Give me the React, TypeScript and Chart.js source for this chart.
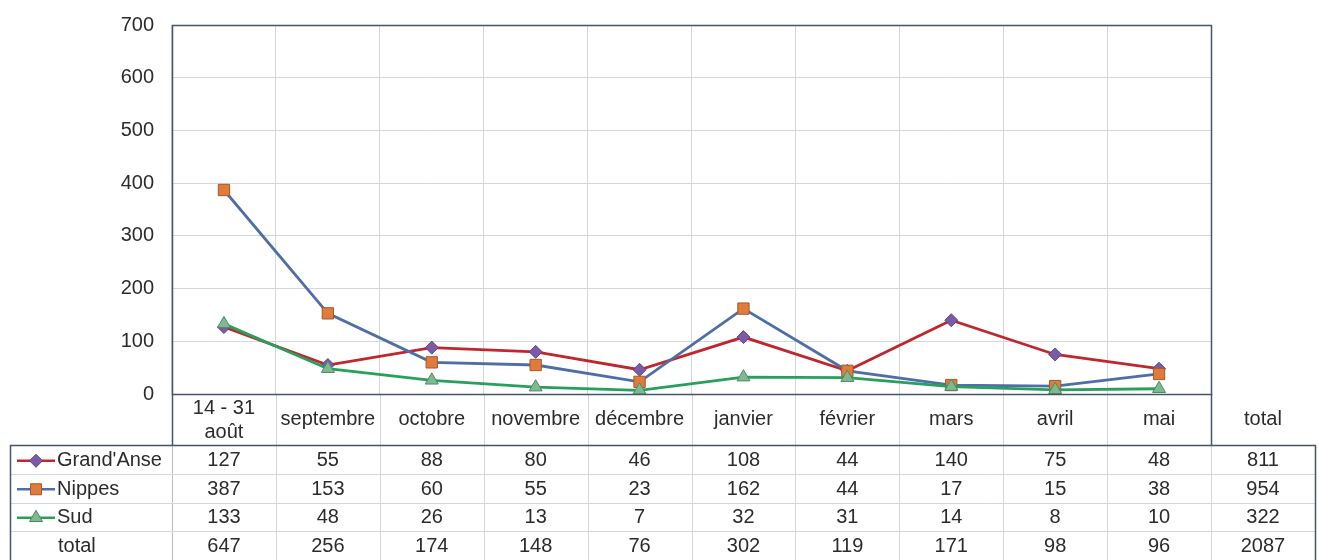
import React, { useEffect, useRef } from "react";
import { Chart, registerables } from "chart.js";

Chart.register(...registerables);

// ---- data ----
const categories: (string | string[])[] = [
  ["14 - 31", "août"],
  "septembre",
  "octobre",
  "novembre",
  "décembre",
  "janvier",
  "février",
  "mars",
  "avril",
  "mai",
];
const totalLabel = "total";
const seriesNames = ["Grand'Anse", "Nippes", "Sud"];
const grandAnse = [127, 55, 88, 80, 46, 108, 44, 140, 75, 48];
const nippes = [387, 153, 60, 55, 23, 162, 44, 17, 15, 38];
const sud = [133, 48, 26, 13, 7, 32, 31, 14, 8, 10];
const seriesTotals = [811, 954, 322];
const monthTotals = [647, 256, 174, 148, 76, 302, 119, 171, 98, 96];
const grandTotal = 2087;
const yMin = 0;
const yMax = 700;
const yStep = 100;

const FONT = "'Liberation Sans', Arial, sans-serif";
const TEXT = "#2b2b2b";
const GRID = "#d4d7db";
const DARK = "#46556a";

const styles = [
  { line: "#c0272d", fill: "#7b5ba6", stroke: "#5e4585", shape: "diamond" },
  { line: "#4f6ea6", fill: "#e07b3b", stroke: "#a3592a", shape: "square" },
  { line: "#28a05c", fill: "#7dba8f", stroke: "#4d8a62", shape: "triangle" },
];

function drawMarker(ctx: CanvasRenderingContext2D, shape: string, x: number, y: number, fill: string, stroke: string) {
  ctx.beginPath();
  if (shape === "diamond") {
    const r = 6.5;
    ctx.moveTo(x, y - r);
    ctx.lineTo(x + r, y);
    ctx.lineTo(x, y + r);
    ctx.lineTo(x - r, y);
    ctx.closePath();
  } else if (shape === "square") {
    ctx.rect(x - 5.5, y - 5.5, 11, 11);
  } else {
    const r = 7.5;
    ctx.moveTo(x, y - r);
    ctx.lineTo(x + r * 0.866, y + r * 0.5);
    ctx.lineTo(x - r * 0.866, y + r * 0.5);
    ctx.closePath();
  }
  ctx.fillStyle = fill;
  ctx.fill();
  ctx.lineWidth = 1;
  ctx.strokeStyle = stroke;
  ctx.stroke();
}

const tablePlugin = {
  id: "dataTable",
  afterDraw(chart: any) {
    const ctx: CanvasRenderingContext2D = chart.ctx;
    const xs = chart.scales.x;
    const area = chart.chartArea;
    const n = categories.length;
    const step = (xs.getPixelForValue(n - 1) - xs.getPixelForValue(0)) / (n - 1);
    const centers: number[] = [];
    for (let i = 0; i < n; i++) centers.push(xs.getPixelForValue(i));
    centers.push(centers[n - 1] + step);

    const tableLeft = 10.5;
    const tableRight = 1315.5;
    const headTop = area.bottom;
    const headBottom = 445.5;
    const rowH = 28.5;
    const bottom = 560;

    ctx.save();
    ctx.strokeStyle = GRID;
    ctx.lineWidth = 1;
    for (let i = 1; i <= n; i++) {
      const bx = Math.round(centers[i] - step / 2) + 0.5;
      ctx.beginPath();
      ctx.moveTo(bx, headTop);
      ctx.lineTo(bx, bottom);
      ctx.stroke();
    }
    const leftB = Math.round(area.left) + 0.5;
    ctx.strokeStyle = "#b9bec6";
    ctx.beginPath();
    ctx.moveTo(leftB, headBottom);
    ctx.lineTo(leftB, bottom);
    ctx.stroke();

    ctx.strokeStyle = GRID;
    for (let r = 1; r <= 3; r++) {
      const y = Math.round(headBottom + r * rowH) + 0.5;
      ctx.beginPath();
      ctx.moveTo(tableLeft, y);
      ctx.lineTo(tableRight, y);
      ctx.stroke();
    }

    ctx.strokeStyle = DARK;
    ctx.lineWidth = 1.5;
    ctx.beginPath();
    ctx.moveTo(leftB, headTop);
    ctx.lineTo(leftB, headBottom);
    const rB = Math.round(area.right) + 0.5;
    ctx.moveTo(rB, headTop);
    ctx.lineTo(rB, headBottom);
    ctx.stroke();
    ctx.beginPath();
    ctx.moveTo(tableLeft, bottom);
    ctx.lineTo(tableLeft, headBottom);
    ctx.lineTo(tableRight, headBottom);
    ctx.lineTo(tableRight, bottom);
    ctx.stroke();

    ctx.strokeRect(Math.round(area.left) + 0.5, Math.round(area.top) + 0.5, Math.round(area.right - area.left), Math.round(area.bottom - area.top));

    ctx.fillStyle = TEXT;
    ctx.font = `20px ${FONT}`;
    ctx.textAlign = "center";
    ctx.textBaseline = "middle";
    const headMid = (headTop + headBottom) / 2;
    const headers: (string | string[])[] = [...categories, totalLabel];
    headers.forEach((h, i) => {
      if (Array.isArray(h)) {
        ctx.fillText(h[0], centers[i], headMid - 11);
        ctx.fillText(h[1], centers[i], headMid + 13);
      } else {
        ctx.fillText(h, centers[i], headMid);
      }
    });

    const rows = [grandAnse, nippes, sud];
    rows.forEach((vals, r) => {
      const y = headBottom + rowH * r + rowH / 2 + 1;
      const st = styles[r];
      ctx.strokeStyle = st.line;
      ctx.lineWidth = 2.5;
      ctx.beginPath();
      ctx.moveTo(17, y);
      ctx.lineTo(55, y);
      ctx.stroke();
      drawMarker(ctx, st.shape, 36, y, st.fill, st.stroke);
      ctx.fillStyle = TEXT;
      ctx.textAlign = "left";
      ctx.fillText(seriesNames[r], 57, y);
      ctx.textAlign = "center";
      vals.forEach((v, i) => ctx.fillText(String(v), centers[i], y));
      ctx.fillText(String(seriesTotals[r]), centers[n], y);
    });
    const yt = headBottom + rowH * 3 + rowH / 2 + 1;
    ctx.textAlign = "left";
    ctx.fillText("total", 58, yt);
    ctx.textAlign = "center";
    monthTotals.forEach((v, i) => ctx.fillText(String(v), centers[i], yt));
    ctx.fillText(String(grandTotal), centers[n], yt);
    ctx.restore();
  },
};

export default function App() {
  const ref = useRef<HTMLCanvasElement | null>(null);
  useEffect(() => {
    if (!ref.current) return;
    const mk = (name: string, data: number[], i: number, order: number, pointStyle: string, radius: number) => ({
      label: name,
      data,
      borderColor: styles[i].line,
      backgroundColor: styles[i].fill,
      pointBackgroundColor: styles[i].fill,
      pointBorderColor: styles[i].stroke,
      pointBorderWidth: 1,
      borderWidth: 2.8,
      pointStyle,
      pointRadius: radius,
      pointHoverRadius: radius,
      tension: 0,
      fill: false,
      order,
    });
    const chart = new Chart(ref.current, {
      type: "line",
      data: {
        labels: categories as any,
        datasets: [
          mk(seriesNames[0], grandAnse, 0, 3, "rectRot", 6.5),
          mk(seriesNames[1], nippes, 1, 2, "rect", 8),
          mk(seriesNames[2], sud, 2, 1, "triangle", 7.5),
        ] as any,
      },
      options: {
        animation: false,
        responsive: false,
        maintainAspectRatio: false,
        layout: { autoPadding: false, padding: { top: 25, right: 108, bottom: 166, left: 0 } },
        plugins: { legend: { display: false }, tooltip: { enabled: false } },
        scales: {
          x: {
            type: "category",
            offset: true,
            grid: { offset: true, color: GRID, drawTicks: false },
            border: { display: false },
            ticks: { display: false },
          },
          y: {
            min: yMin,
            max: yMax,
            ticks: {
              stepSize: yStep,
              color: TEXT,
              font: { family: FONT, size: 20 },
              padding: 18,
            },
            grid: { color: GRID, drawTicks: false },
            border: { display: false },
            afterFit: (scale: any) => {
              scale.width = 172;
              scale.paddingTop = 0;
              scale.paddingBottom = 0;
            },
          },
        },
      },
      plugins: [tablePlugin],
    });
    return () => chart.destroy();
  }, []);
  return (
    <div style={{ position: "absolute", left: 0, top: 0, width: 1319, height: 560, background: "#fff" }}>
      <canvas ref={ref} width={1319} height={560} style={{ display: "block" }} />
    </div>
  );
}
